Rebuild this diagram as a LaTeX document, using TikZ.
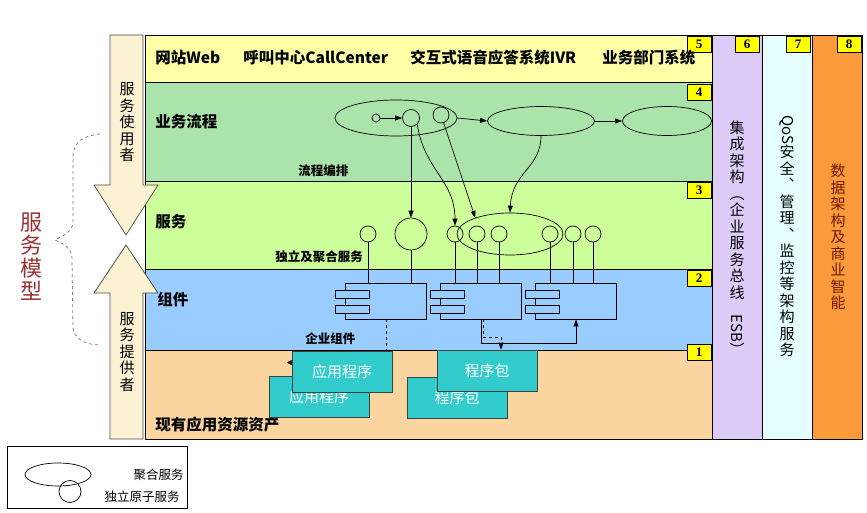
\documentclass[tikz,border=0pt]{standalone}
\usepackage{fontspec}
\setmainfont{Noto Sans CJK SC}
\newfontfamily\numfont{Liberation Serif}
\usepackage{tikz}
\usetikzlibrary{arrows.meta, positioning, shapes.geometric}

\definecolor{c5}{HTML}{FFFFA8}
\definecolor{c4}{HTML}{AAE4AA}
\definecolor{c3}{HTML}{CCFF99}
\definecolor{c2}{HTML}{99CCFF}
\definecolor{c1}{HTML}{FAD5A0}
\definecolor{c6}{HTML}{DCCBF7}
\definecolor{c7}{HTML}{E6FFFF}
\definecolor{c8}{HTML}{FA9A3A}
\definecolor{numyellow}{HTML}{FFFF00}
\definecolor{arrowfill}{HTML}{FBF1D3}
\definecolor{teal1}{HTML}{33CCCC}
\definecolor{modelred}{HTML}{993333}
\definecolor{bizbrown}{HTML}{6B1A00}

\begin{document}
\begin{tikzpicture}[
  x=1pt, y=-1pt, line width=0.7pt,
  numbox/.style={draw, fill=numyellow, minimum width=24pt, minimum height=16pt, inner sep=0pt, font=\numfont\bfseries\fontsize{13}{13}\selectfont},
  lbl/.style={anchor=west, inner sep=0pt, font=\bfseries\fontsize{15.5}{17}\selectfont},
  small/.style={anchor=west, inner sep=0pt, font=\bfseries\fontsize{12.5}{14}\selectfont},
  atom/.style={circle, draw, minimum size=16pt, inner sep=0pt},
  group/.style={ellipse, draw, inner sep=0pt},
  comp/.style={draw, minimum width=81pt, minimum height=36pt, inner sep=0pt},
  tab/.style={draw, fill=c2, minimum width=34pt, minimum height=8pt, inner sep=0pt},
  asset/.style={draw=black!75, fill=teal1, text=white, minimum width=100pt, minimum height=41pt, inner sep=0pt, font=\fontsize{15}{17}\selectfont},
  vtext/.style={align=center, inner sep=0pt, font=\fontsize{15}{16.5}\selectfont},
  arrow/.style={-{Triangle[length=7pt,width=5pt]}},
]
\useasboundingbox (0,0) rectangle (867,513);
\fill[white] (0,0) rectangle (867,513);

% Layers and columns
\draw[fill=c5] (145,35) rectangle (712,82);
\draw[fill=c4] (145,82) rectangle (712,181);
\draw[fill=c3] (145,181) rectangle (712,269);
\draw[fill=c2] (145,269) rectangle (712,350);
\draw[fill=c1] (145,350) rectangle (712,439);
\draw[fill=c6] (712,35) rectangle (762,439);
\draw[fill=c7] (762,35) rectangle (812,439);
\draw[fill=c8] (812,35) rectangle (862,439);

\node[numbox] (n5) at (699,44) {5};
\node[numbox] (n4) at (699,92) {4};
\node[numbox] (n3) at (699,190.5) {3};
\node[numbox] (n2) at (699,278) {2};
\node[numbox] (n1) at (699,352) {1};
\node[numbox] (n6) at (747,44.5) {6};
\node[numbox] (n7) at (798,44.5) {7};
\node[numbox] (n8) at (849,44.5) {8};

% Consumer / provider arrows
\draw[black!70, fill=arrowfill] (110,35) -- (143,35) -- (143,185) -- (158,185) -- (126,235) -- (94,185) -- (110,185) -- cycle;
\draw[black!70, fill=arrowfill] (126,245) -- (158,293) -- (143,293) -- (143,439) -- (110,439) -- (110,293) -- (94,293) -- cycle;
\node[vtext] (user) at (127,122.5) {服\\务\\使\\用\\者};
\node[vtext] (provider) at (127,352) {服\\务\\提\\供\\者};
\node[vtext, text=modelred, font=\fontsize{22}{23}\selectfont] (model) at (31,257) {服\\务\\模\\型};
\draw[dashed, gray, line width=0.8pt] (100,134) .. controls (82,136) and (73,142) .. (73,158)
  -- (73,222) .. controls (73,232) and (62,236) .. (55,240)
  .. controls (62,243) and (72,248) .. (72,258) -- (73,327)
  .. controls (73,338) and (85,345) .. (100,345);

% Layer texts
\node[lbl] (web) at (155,58) {网站Web};
\node[lbl] (call) at (243,58) {呼叫中心CallCenter};
\node[lbl] (ivr) at (410,58) {交互式语音应答系统IVR};
\node[lbl] (dept) at (602,58) {业务部门系统};
\node[lbl] (process) at (155,122) {业务流程};
\node[lbl] (service) at (155,222) {服务};
\node[lbl] (component) at (157,300) {组件};
\node[lbl] (asset) at (155,425) {现有应用资源资产};
\node[small] (orch) at (298,171) {流程编排};
\node[small] (svctxt) at (275,257) {独立及聚合服务};
\node[small] (comptxt) at (305,339) {企业组件};

% Process layer
\node[group, minimum width=122pt, minimum height=36pt] (flow1) at (396,118) {};
\node[group, minimum width=107pt, minimum height=29pt] (flow2) at (541,121) {};
\node[group, minimum width=89pt, minimum height=29pt] (flow3) at (667,121) {};
\node[circle, draw, minimum size=8pt, inner sep=0pt] (start) at (376,118) {};
\node[atom, minimum size=17pt] (task1) at (411,118) {};
\node[atom] (task2) at (441,115) {};

% Service layer
\node[atom] (s1) at (368,234) {};
\node[atom, minimum size=32pt] (s2) at (411,234) {};
\node[group, minimum width=106pt, minimum height=42pt] (agg) at (510,234) {};
\foreach \n/\x in {3/455,4/477,5/499,6/550,7/573,8/593}
  \node[atom] (s\n) at (\x,234) {};

% Component layer
\foreach \n/\x in {1/386,2/481,3/576} {
  \node[comp] (comp\n) at (\x,301) {};
  \node[tab] (tabA\n) at ([xshift=7pt,yshift=7pt]comp\n.west) {};
  \node[tab] (tabB\n) at ([xshift=7pt,yshift=-8pt]comp\n.west) {};
}

% Asset layer
\node[asset] (app1) at (319,397) {应用程序};
\node[asset] (app2) at (342,371.5) {应用程序};
\node[asset] (pkg1) at (457,397.5) {程序包};
\node[asset] (pkg2) at (487,370.5) {程序包};

% Arrows
\draw[arrow] (start) -- (task1);
\draw[arrow] (flow1.east) -- (flow2.west);
\draw[arrow] (flow2.east) -- (flow3.west);
\draw[arrow] (task1) -- (s2);
\draw[arrow] (task1.south east) .. controls (424,170) and (455,180) .. (s3.north);
\draw[arrow] (task2) -- (agg.155);
\draw[arrow] (flow2.south) .. controls (541,168) and (512,172) .. (agg.north);
\foreach \n/\c in {1/1,2/1,3/2,4/2,5/2,6/3,7/3,8/3}
  \draw (s\n.south) -- (s\n.south |- comp\c.north);
\draw[dashed] (comp1.south) -- (comp1.south |- app2.north);
\draw[arrow] (comp2.south) -- ++(0,24) -| (comp3.south);
\draw[dashed, arrow] ([xshift=2pt]comp2.south) -- ++(0,18) -| ([xshift=14pt]pkg2.north);
\draw[-{Triangle[length=5pt,width=5pt]}] ([yshift=9pt]app2.west) -- ++(-5,0);

% Enterprise columns
\node[vtext] (esb) at (737,238) {集\\成\\架\\构\\︵\\企\\业\\服\\务\\总\\线\\\rotatebox{-90}{ESB}\\︶};
\node[vtext] (qos) at (787,236) {\rotatebox{-90}{QoS}\\安\\全\\︑\\管\\理\\︑\\监\\控\\等\\架\\构\\服\\务};
\node[vtext, text=bizbrown] (bi) at (838,237) {数\\据\\架\\构\\及\\商\\业\\智\\能};

% Legend
\node[draw, minimum width=180pt, minimum height=62pt, inner sep=0pt] (legend) at (97,477) {};
\node[group, minimum width=66pt, minimum height=23pt] (legagg) at (58,474.5) {};
\node[atom, minimum size=22pt] (legatom) at (70,491.5) {};
\node[anchor=east, inner sep=0pt, font=\fontsize{12.5}{14}\selectfont] (legaggtxt) at (184,475) {聚合服务};
\node[anchor=east, inner sep=0pt, font=\fontsize{12.5}{14}\selectfont] (legatomtxt) at (180,497) {独立原子服务};
\end{tikzpicture}
\end{document}
